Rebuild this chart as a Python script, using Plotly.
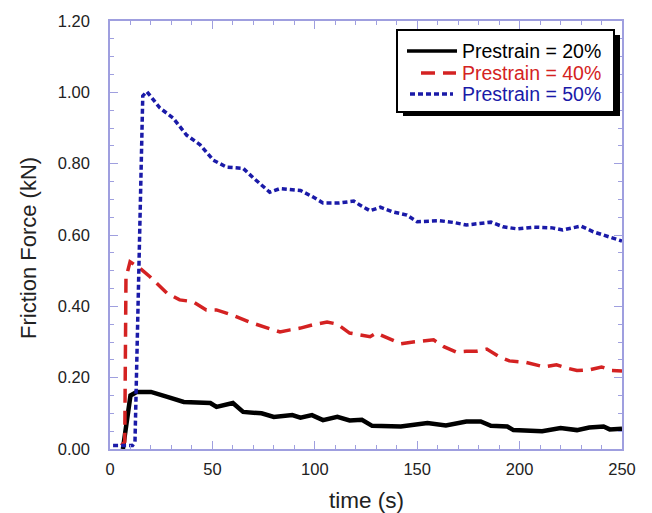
import plotly.graph_objects as go

t20 = [6.3, 8.5, 10, 13, 20, 28, 36, 49, 52, 60, 65, 74, 80, 89, 93, 98.6, 104, 111, 117, 123, 128, 142, 155, 164, 174, 181, 186, 194, 197, 211, 220, 228, 234, 241, 244, 250]
v20 = [0.0, 0.10, 0.150, 0.160, 0.160, 0.146, 0.132, 0.129, 0.118, 0.129, 0.104, 0.100, 0.090, 0.095, 0.088, 0.095, 0.081, 0.090, 0.080, 0.082, 0.065, 0.063, 0.073, 0.066, 0.077, 0.077, 0.065, 0.063, 0.053, 0.050, 0.059, 0.053, 0.060, 0.063, 0.055, 0.057]

t40 = [5.5, 7.2, 7.8, 9.8, 14.6, 19.5, 27.8, 34, 40.6, 47, 52, 60, 68, 76, 83, 88, 93, 99, 106, 111, 117, 120, 127, 130, 137, 142, 148, 158, 163, 169, 174, 179, 184, 190, 195, 203, 212, 218, 223, 228, 234, 240, 245, 250]
v40 = [0.01, 0.02, 0.48, 0.525, 0.507, 0.483, 0.437, 0.418, 0.413, 0.390, 0.390, 0.375, 0.356, 0.342, 0.328, 0.334, 0.339, 0.348, 0.356, 0.350, 0.325, 0.322, 0.315, 0.325, 0.306, 0.295, 0.300, 0.306, 0.287, 0.272, 0.274, 0.274, 0.280, 0.259, 0.247, 0.243, 0.230, 0.236, 0.227, 0.220, 0.222, 0.230, 0.220, 0.219]

t50 = [1.5, 11, 12.2, 16, 18, 21, 24.4, 30.8, 37.4, 44, 50.4, 57, 65, 70, 78, 83, 93, 99, 104, 112, 119, 122, 127, 132, 138, 145, 150, 161, 168, 174, 186, 192, 199, 207, 216, 221, 230, 236, 243, 250]
v50 = [0.01, 0.01, 0.02, 0.99, 1.002, 0.980, 0.956, 0.928, 0.880, 0.853, 0.810, 0.790, 0.787, 0.760, 0.720, 0.730, 0.725, 0.707, 0.690, 0.690, 0.695, 0.684, 0.668, 0.678, 0.665, 0.656, 0.637, 0.640, 0.635, 0.628, 0.636, 0.623, 0.617, 0.622, 0.620, 0.614, 0.625, 0.609, 0.597, 0.583]

names = ["Prestrain = 20%", "Prestrain = 40%", "Prestrain = 50%"]
colors = ["#000000", "#d42222", "#1a1aa8"]
dashes = ["solid", "14px,8px", "5px,3px"]
widths = [4.5, 3.5, 3.5]

FONT = "Liberation Sans, Arial, sans-serif"
FRAME = "#9f9fdf"

W, H = 652, 513
ML, MR, MT, MB = 110, 30, 21, 64
PW, PH = W - ML - MR, H - MT - MB


def px(x):
    return (x - ML) / PW


def py(y):
    return (H - MB - y) / PH


fig = go.Figure()
for t, v, n, c, d, w in zip([t20, t40, t50], [v20, v40, v50], names, colors, dashes, widths):
    fig.add_trace(go.Scatter(x=t, y=v, mode="lines", name=n, showlegend=False,
                             line=dict(color=c, width=w, dash=d)))

# manual legend: shadow, box, samples, texts
fig.add_shape(type="rect", xref="paper", yref="paper",
              x0=px(403), x1=px(620), y0=py(116), y1=py(35),
              fillcolor="black", line=dict(width=0), layer="above")
fig.add_shape(type="rect", xref="paper", yref="paper",
              x0=px(397), x1=px(614), y0=py(112), y1=py(30),
              fillcolor="white", line=dict(color="black", width=2), layer="above")
rows_y = [51, 73, 94]
sample_x = [(407, 457), (421, 456), (410, 453)]
for (x0, x1), yy, n, c, d, w in zip(sample_x, rows_y, names, colors, dashes, widths):
    fig.add_shape(type="line", xref="paper", yref="paper",
                  x0=px(x0), x1=px(x1), y0=py(yy), y1=py(yy),
                  line=dict(color=c, width=w if w < 4 else 3.5, dash=d), layer="above")
    fig.add_annotation(xref="paper", yref="paper", x=px(460), y=py(yy),
                       xanchor="left", yanchor="middle", showarrow=False,
                       text=n, font=dict(family=FONT, size=19.5, color=c))

# axis titles
fig.add_annotation(xref="paper", yref="paper", x=0.5, y=py(500), xanchor="center",
                   yanchor="middle", showarrow=False, text="time (s)",
                   font=dict(family=FONT, size=22.5, color="#222"))
fig.add_annotation(xref="paper", yref="paper", x=px(28), y=py(248), xanchor="center",
                   yanchor="middle", showarrow=False, text="Friction Force (kN)", textangle=-90,
                   font=dict(family=FONT, size=22, color="#222"))

axis_common = dict(showline=True, linecolor=FRAME, linewidth=1.5, mirror="allticks",
                   ticks="inside", ticklen=8, tickcolor=FRAME, tickwidth=1,
                   showgrid=False, zeroline=False,
                   tickfont=dict(family=FONT, size=16.5, color="#222"))

fig.update_layout(
    width=W, height=H,
    margin=dict(l=ML, r=MR, t=MT, b=MB),
    plot_bgcolor="white", paper_bgcolor="white",
    font=dict(family=FONT),
    showlegend=False,
    xaxis=dict(range=[0, 250], tickmode="array", tickvals=[0, 50, 100, 150, 200, 250],
               ticktext=["0", "50", "100", "150", "200", "250"],
               minor=dict(dtick=10, ticks="inside", ticklen=4, tickcolor=FRAME),
               ticklabelstandoff=4,
               **axis_common),
    yaxis=dict(range=[0, 1.2], tickmode="array", tickvals=[0, 0.2, 0.4, 0.6, 0.8, 1.0, 1.2],
               ticktext=["0.00", "0.20", "0.40", "0.60", "0.80", "1.00", "1.20"],
               minor=dict(dtick=0.05, ticks="inside", ticklen=4, tickcolor=FRAME),
               ticklabelstandoff=15,
               **axis_common),
)

fig.write_html("out.html")
